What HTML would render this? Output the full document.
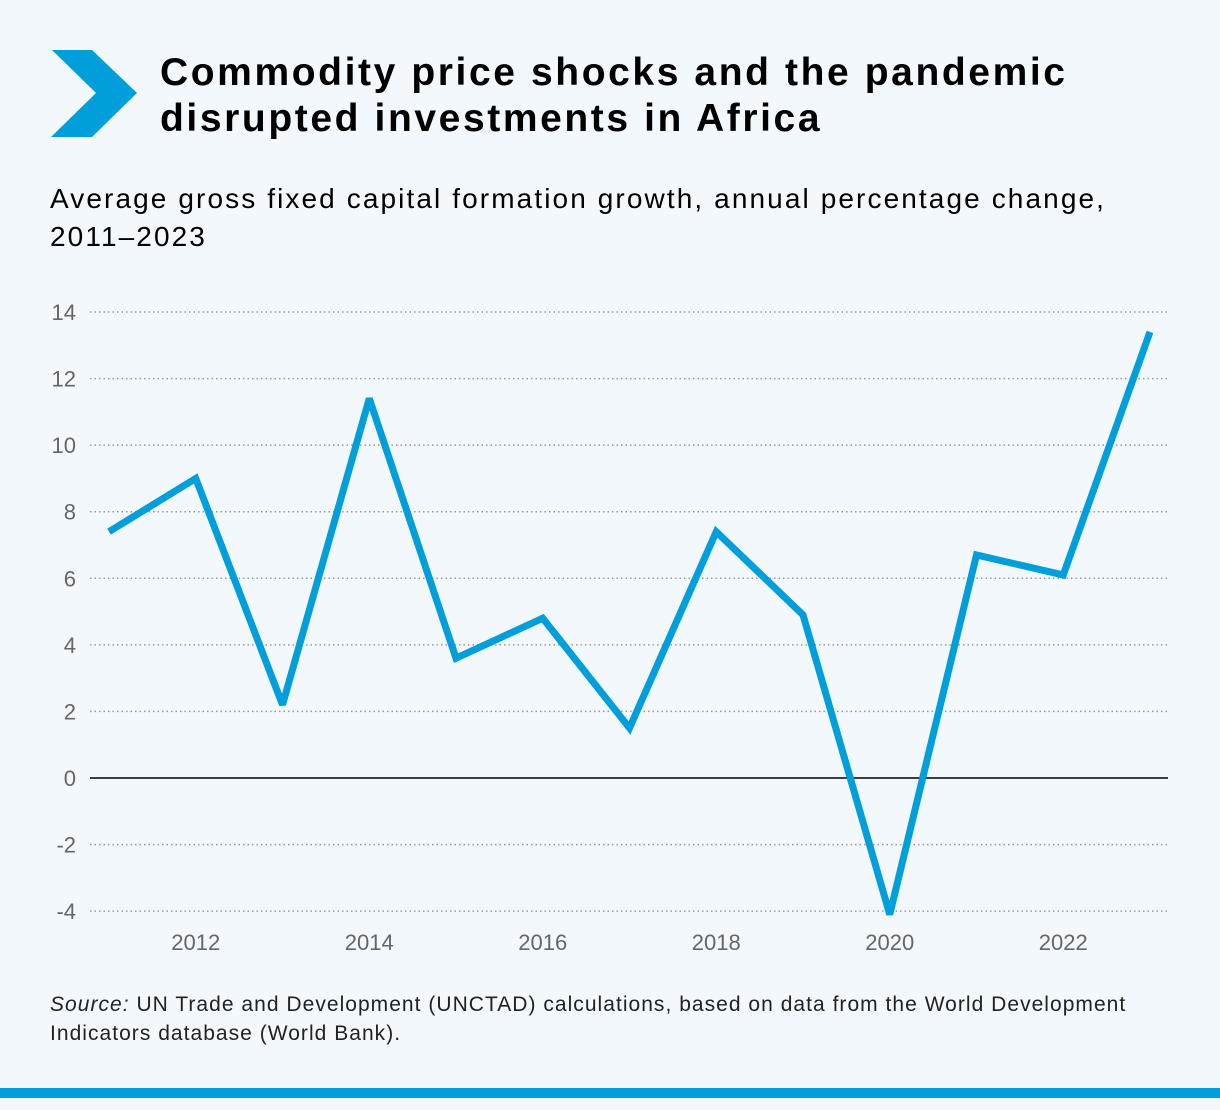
<!DOCTYPE html>
<html><head><meta charset="utf-8"><style>
body{margin:0;width:1220px;height:1110px;background:#f3f8fc;font-family:"Liberation Sans",sans-serif;position:relative;overflow:hidden}
.t{position:absolute;left:160px;top:50px;font-size:39px;font-weight:bold;line-height:46px;color:#000;letter-spacing:2.6px;white-space:nowrap}
.s{position:absolute;left:50px;top:180px;font-size:28px;line-height:38px;color:#000;letter-spacing:2.1px;white-space:nowrap}
.src{position:absolute;left:50px;top:990px;font-size:21px;line-height:29px;color:#222;letter-spacing:1.03px;white-space:nowrap}
.bar{position:absolute;left:0;top:1088px;width:1220px;height:10px;background:#009fdb}
</style></head><body>
<svg style="position:absolute;left:0;top:0" width="160" height="160"><polygon points="52,50 92,50 137,93 92,137 51,137 96,93" fill="#009fdb"/></svg>
<div class="t">Commodity price shocks and the pandemic<br>disrupted investments in Africa</div>
<div class="s">Average gross fixed capital formation growth, annual percentage change,<br>2011–2023</div>
<svg id="ch" style="position:absolute;left:0;top:0" width="1220" height="980"></svg>
<div class="src"><i>Source:</i> UN Trade and Development (UNCTAD) calculations, based on data from the World Development<br>Indicators database (World Bank).</div>
<div class="bar"></div>
<script>
const years=[2011,2012,2013,2014,2015,2016,2017,2018,2019,2020,2021,2022,2023];
const values=[7.4,9.0,2.2,11.4,3.6,4.8,1.5,7.4,4.9,-4.1,6.7,6.1,13.4];
const yTicks=[-4,-2,0,2,4,6,8,10,12,14];
const xTicks=[2012,2014,2016,2018,2020,2022];
const NS='http://www.w3.org/2000/svg';
const svg=document.getElementById('ch');
const x=v=>109+(v-2011)*(1150-109)/12;
const y=v=>778-v*(778-312)/14;
function mk(t,a){const e=document.createElementNS(NS,t);for(const k in a)e.setAttribute(k,a[k]);svg.appendChild(e);return e;}
yTicks.forEach(t=>{
  const l=mk('line',{x1:90,x2:1168,y1:y(t),y2:y(t),stroke:t===0?'#000':'#999','stroke-width':1.5,'stroke-dasharray':t===0?'':'1.5,3'});
  
  
  const tx=mk('text',{x:76,y:y(t)+8,'text-anchor':'end','font-size':22,fill:'#666','font-family':'Liberation Sans'});
  tx.textContent=t;
  
  
});
xTicks.forEach(t=>{
  const tx=mk('text',{x:x(t),y:950,'text-anchor':'middle','font-size':22,fill:'#666','font-family':'Liberation Sans'});
  tx.textContent=t;
  
  
});
const p=mk('polyline',{points:years.map((yr,i)=>x(yr)+','+y(values[i])).join(' '),fill:'none',stroke:'#009fdb','stroke-width':7,'stroke-linejoin':'miter','stroke-miterlimit':3});


</script>
</body></html>
